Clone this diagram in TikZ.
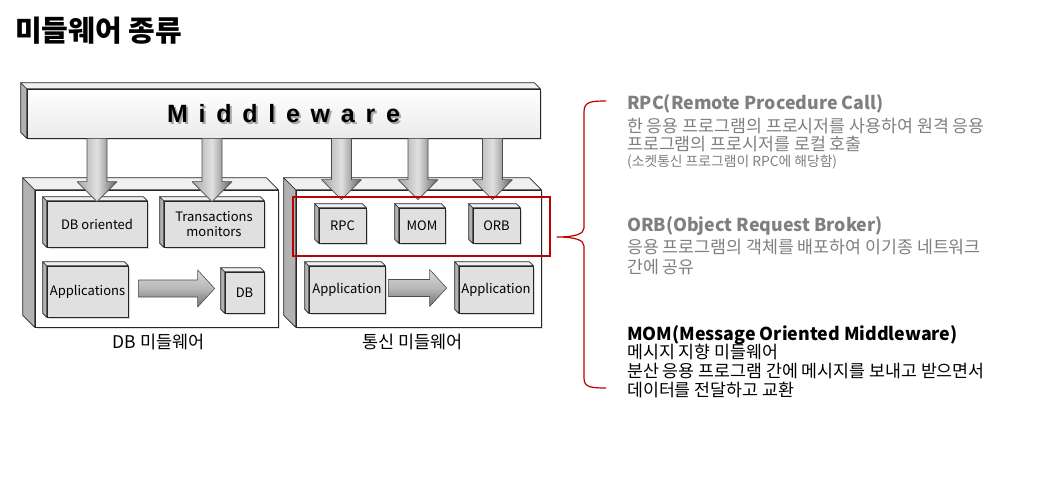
\documentclass[tikz,border=0pt]{standalone}
\usepackage{fontspec}
\setmainfont{Noto Sans CJK KR}
\newfontfamily\mwfont[LetterSpace=43]{Liberation Sans}
\usetikzlibrary{calc, positioning, shadows}

\definecolor{selred}{HTML}{C00000}
\definecolor{notegray}{HTML}{7F7F7F}

\tikzset{
  face/.style={draw=black!85, line width=0.7pt, fill=black!12, inner sep=0pt, align=center,
    font=\fontsize{13}{15}\selectfont,
    drop shadow={shadow xshift=1.5pt, shadow yshift=-1.5pt, opacity=0.3}},
  frame/.style={draw=black!85, line width=0.7pt, fill=white, inner sep=0pt,
    drop shadow={shadow xshift=2pt, shadow yshift=-2pt, opacity=0.25}},
  bevelside/.style={draw=black!85, line width=0.7pt, fill=black!30, line join=round},
  beveltop/.style={draw=black!85, line width=0.7pt, fill=black!6, line join=round},
  block/.style={draw=black!70, line width=0.6pt, line join=round},
  caption/.style={font=\fontsize{17.5}{20}\selectfont},
  headnote/.style={anchor=west, inner sep=0pt, font=\bfseries\fontsize{17.8}{20}\selectfont},
  bodynote/.style={anchor=north west, inner sep=0pt, align=left, font=\fontsize{17.3}{19}\selectfont},
  bracered/.style={draw=selred, line width=1.2pt, line join=round}
}

% extruded edge on the upper left of a face
\newcommand{\boxbevel}[2]{%
  \filldraw[bevelside] (#1.north west) -- ++(-#2,-#2) -- ($(#1.south west)+(-#2,-#2)$) -- (#1.south west) -- cycle;
  \filldraw[beveltop] (#1.north west) -- ++(-#2,-#2) -- ($(#1.north east)+(-#2,-#2)$) -- (#1.north east) -- cycle;
}
% fat arrows
\newcommand{\blockdown}[2]{%
  \path[block, left color=black!35, right color=black!62, middle color=black!12]
    let \p1=(#1), \p2=(#2) in
    (\x2-10pt,\y1) -- (\x2+10pt,\y1) -- (\x2+10pt,\y2+20pt) -- (\x2+20pt,\y2+20pt)
    -- (\x2,\y2) -- (\x2-20pt,\y2+20pt) -- (\x2-10pt,\y2+20pt) -- cycle;
}
\newcommand{\blockright}[2]{%
  \path[block, top color=black!15, bottom color=black!55, middle color=black!28]
    let \p1=(#1), \p2=(#2) in
    (\x1,\y1+8.5pt) -- (\x2-17pt,\y1+8.5pt) -- (\x2-17pt,\y1+18.5pt) -- (\x2,\y1)
    -- (\x2-17pt,\y1-18.5pt) -- (\x2-17pt,\y1-8.5pt) -- (\x1,\y1-8.5pt) -- cycle;
}

\begin{document}
\begin{tikzpicture}[x=1pt, y=-1pt]
  \useasboundingbox (0,0) rectangle (1049,479);

  \node[anchor=west, inner sep=0pt, font=\bfseries\fontsize{29}{33}\selectfont] (title) at (15,31) {미들웨어 종류};

  % containers
  \node[frame, minimum width=243pt, minimum height=137pt] (dbbox) at (156.5,258.5) {};
  \boxbevel{dbbox}{12}
  \node[frame, minimum width=245pt, minimum height=137pt] (combox) at (418.5,258.5) {};
  \boxbevel{combox}{12}

  % middleware bar
  \node[draw=black!85, line width=0.7pt, top color=white, bottom color=black!8, inner sep=0pt,
    minimum width=513pt, minimum height=49pt,
    drop shadow={shadow xshift=2pt, shadow yshift=-2pt, opacity=0.25}] (mw) at (283.5,113.5) {};
  \boxbevel{mw}{6}
  \node[font=\mwfont\bfseries\fontsize{25}{30}\selectfont, text=black!35] at ($(mw.center)+(2,2)$) {Middleware};
  \node[font=\mwfont\bfseries\fontsize{25}{30}\selectfont] (mwtext) at (mw.center) {Middleware};

  % inner boxes
  \node[face, minimum width=100pt, minimum height=46pt] (dbo) at (97,224) {DB oriented};
  \node[face, minimum width=100pt, minimum height=46pt] (tm) at (214,224) {Transactions\\monitors};
  \node[face, minimum width=81pt, minimum height=51pt] (apps) at (87.5,291.5) {Applications};
  \node[face, minimum width=39pt, minimum height=41pt] (db) at (244.5,292.5) {DB};
  \node[face, minimum width=47pt, minimum height=35pt] (rpc) at (342.5,225.5) {RPC};
  \node[face, minimum width=46pt, minimum height=35pt] (mom) at (422,225.5) {MOM};
  \node[face, minimum width=47pt, minimum height=35pt] (orb) at (496.5,225.5) {ORB};
  \node[face, minimum width=76pt, minimum height=47pt] (appa) at (347,289.5) {Application};
  \node[face, minimum width=74pt, minimum height=47pt] (appb) at (496,289.5) {Application};
  \foreach \n in {dbo, tm, apps, db, rpc, mom, orb, appa, appb} {\boxbevel{\n}{4}}

  % arrows
  \blockdown{mw.south -| dbo.north}{$(dbo.north)+(0,1)$}
  \blockdown{mw.south -| tm.north}{$(tm.north)+(-2,1)$}
  \blockdown{mw.south -| rpc.north}{$(rpc.north)+(-1,-8)$}
  \blockdown{mw.south -| mom.north}{$(mom.north)+(-4,-8)$}
  \blockdown{mw.south -| orb.north}{$(orb.north)+(-4,-8)$}
  \blockright{$(apps.east)+(10,-3)$}{$(db.west)+(-10,0)$}
  \blockright{$(appa.east)+(3,-1.5)$}{$(appb.west)+(-12,0)$}

  \node[caption, below=3pt of dbbox, xshift=2pt] (dbcap) {DB 미들웨어};
  \node[caption, below=3pt of combox, xshift=-6pt] (comcap) {통신 미들웨어};

  % selection and brace
  \node[draw=selred, line width=1.2pt, inner sep=0pt, minimum width=257pt, minimum height=59pt] (sel) at (421.5,226.5) {};
  \coordinate (bracetip) at (557,237);
  \draw[bracered] (606,101) .. controls (590,101) and (584,102) .. (584,112) -- (584,228)
    .. controls (584,234) and (575,237) .. (bracetip)
    .. controls (575,237) and (584,240) .. (584,246) -- (584,378)
    .. controls (584,387) and (590,388) .. (606,388);

  % notes
  \node[headnote, text=notegray] (rpchead) at (627,104) {RPC(Remote Procedure Call)};
  \node[bodynote, text=notegray, font=\fontsize{17.3}{18}\selectfont] (rpcbody) at (627,118) {한 응용 프로그램의 프로시저를 사용하여 원격 응용\\프로그램의 프로시저를 로컬 호출};
  \node[anchor=west, inner sep=0pt, text=notegray, font=\fontsize{13.8}{16}\selectfont] (rpcnote) at (627,162) {(소켓통신 프로그램이 RPC에 해당함)};

  \node[headnote, text=notegray] (orbhead) at (627,226) {ORB(Object Request Broker)};
  \node[bodynote, text=notegray, font=\fontsize{17.3}{20}\selectfont] (orbbody) at (627,239) {응용 프로그램의 객체를 배포하여 이기종 네트워크\\간에 공유};

  \node[headnote] (momhead) at (627,335) {MOM(Message Oriented Middleware)};
  \node[bodynote] (mombody) at (627,344) {메시지 지향 미들웨어\\분산 응용 프로그램 간에 메시지를 보내고 받으면서\\데이터를 전달하고 교환};
\end{tikzpicture}
\end{document}
